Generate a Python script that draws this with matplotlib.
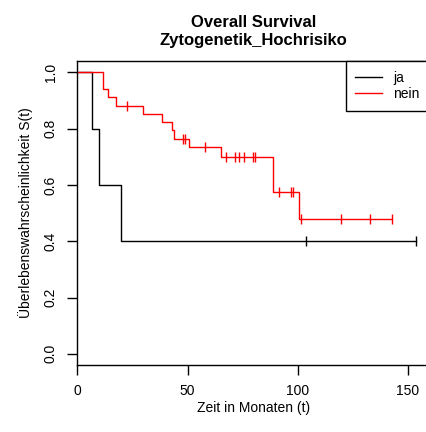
import numpy as np
import matplotlib
matplotlib.use("Agg")
import matplotlib.pyplot as plt

plt.rcParams['font.family'] = ['Liberation Sans', 'DejaVu Sans']

# Kaplan-Meier steps (months, survival)
ja_times = [0, 6.7, 9.8, 19.7]
ja_surv = [1.0, 0.8, 0.6, 0.4]
ja_end = 153.5
ja_cens = [103.6, 153.5]

nein_times = [0, 11.8, 14.1, 17.6, 29.8, 38.6, 42.8, 43.9, 50.5, 65.1, 88.6, 100.4]
nein_surv = [1.0, 0.941, 0.912, 0.882, 0.853, 0.824, 0.794, 0.765, 0.735, 0.700, 0.575, 0.478]
nein_end = 142.6
nein_cens = [22.7, 48.0, 48.9, 57.9, 67.5, 71.6, 73.5, 75.6, 79.9, 80.8,
             91.7, 96.8, 97.7, 101.4, 119.6, 132.9, 142.6]

groups = ['ja', 'nein']
colors = ['black', 'red']

fig = plt.figure(figsize=(4.26, 4.32), dpi=100)
ax = fig.add_axes([0.1815, 0.155, 0.8256, 0.7034])


def draw_km(times, surv, end, cens, color, label):
    t = list(times) + [end]
    s = list(surv) + [surv[-1]]
    ax.step(t, s, where='post', color=color, lw=1.0, label=label)
    # censoring marks sit on the curve
    idx = np.searchsorted(times, cens, side='right') - 1
    ax.plot(cens, np.array(surv)[idx], linestyle='none', marker='|',
            markersize=7, mew=1.0, color=color)


draw_km(ja_times, ja_surv, ja_end, ja_cens, colors[0], groups[0])
draw_km(nein_times, nein_surv, nein_end, nein_cens, colors[1], groups[1])

ax.set_xlim(0, 159.6)
ax.set_ylim(-0.04, 1.04)
ax.set_xticks([0, 50, 100, 150])
ax.set_yticks([0.0, 0.2, 0.4, 0.6, 0.8, 1.0])
ax.set_yticklabels(['0.0', '0.2', '0.4', '0.6', '0.8', '1.0'], rotation=90, va='center')
ax.tick_params(direction='out', length=7, width=1, labelsize=10, pad=7)
for sp in ax.spines.values():
    sp.set_linewidth(1)

ax.set_xlabel('Zeit in Monaten (t)', fontsize=10, labelpad=2)
ax.set_ylabel('Überlebenswahrscheinlichkeit S(t)', fontsize=10, labelpad=8)
ax.set_title('Overall Survival\nZytogenetik_Hochrisiko', fontsize=12, fontweight='bold',
             pad=12, linespacing=1.25)

leg = ax.legend(loc='upper right', fontsize=10, borderaxespad=0, fancybox=False,
                edgecolor='black', framealpha=1, handlelength=1.9, handletextpad=0.8,
                borderpad=0.7, labelspacing=0.15)
leg.get_frame().set_linewidth(1)

fig.savefig('out.png', dpi=100)
